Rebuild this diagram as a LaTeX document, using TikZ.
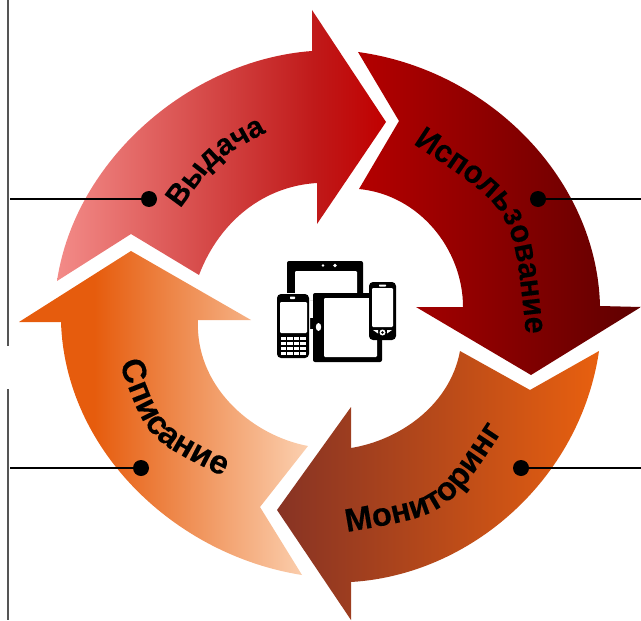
\documentclass[tikz,border=0pt]{standalone}
\usepackage{fontspec}
\usetikzlibrary{decorations.text}
\setmainfont{Liberation Sans}
\newfontfamily\lblfont{Liberation Sans}[UprightFont={* Bold},FakeBold=0.25]
\newfontfamily\lblnarrow{Liberation Sans}[UprightFont={* Bold},FakeBold=0.25,FakeStretch=0.95]
\definecolor{rA}{HTML}{F38B88}\definecolor{rB}{HTML}{C01A1A}\definecolor{rC}{HTML}{C00000}
\definecolor{dA}{HTML}{B40000}\definecolor{dB}{HTML}{5E0000}
\definecolor{mA}{HTML}{873324}\definecolor{mB}{HTML}{E8600F}
\definecolor{oA}{HTML}{E65C0D}\definecolor{oB}{HTML}{FBD0B0}
\definecolor{frame}{HTML}{555555}
\pgfdeclarehorizontalshading{redS}{100bp}{color(0bp)=(rA);color(25bp)=(rA);color(64bp)=(rB);color(75bp)=(rC);color(100bp)=(rC)}
\pgfdeclarehorizontalshading{darkS}{100bp}{color(0bp)=(dA);color(25bp)=(dA);color(75bp)=(dB);color(100bp)=(dB)}
\pgfdeclarehorizontalshading{monS}{100bp}{color(0bp)=(mA);color(25bp)=(mA);color(75bp)=(mB);color(100bp)=(mB)}
\pgfdeclarehorizontalshading{oraS}{100bp}{color(0bp)=(oA);color(25bp)=(oA);color(38bp)=(oA);color(75bp)=(oB);color(100bp)=(oB)}
\tikzset{
 curved label/.style={decorate,decoration={text along path,text align=center,text={#1}}},
 dot/.style={circle,fill=black,inner sep=0pt,minimum size=12pt},
 lead/.style={draw=black,line width=2.2pt},
 frameline/.style={draw=frame,line width=1.5pt},
 blk/.style={fill=black,rounded corners=1.5pt},
 wht/.style={fill=white,rounded corners=.8pt},
}
\begin{document}
\begin{tikzpicture}[x=0.75pt,y=-0.75pt]
\useasboundingbox (0,0) rectangle (641,620);
% frame
\draw[frameline] (7.5,0) -- (7.5,346);
\draw[frameline] (7.5,389) -- (7.5,620);
% arrows
\shade[shading=redS] (57,281) .. controls (75,160) and (190,60) .. (312,51) -- (312,10) -- (386,122) -- (317,224) -- (317,183) .. controls (265,186) and (220,220) .. (199,275) -- (131,234) -- cycle;
\shade[shading=darkS] (358,52) .. controls (490,70) and (597,180) .. (600,306) -- (641,307) -- (531,375) -- (416,307) -- (463,307) .. controls (463,250) and (420,195) .. (359,189) -- (399,121) -- cycle;
\shade[shading=monS] (599,351) .. controls (580,480) and (470,575) .. (351,582) -- (351,620) -- (277,510) -- (351,407) -- (351,448) .. controls (400,440) and (450,405) .. (460,351) -- (530,390) -- cycle;
\shade[shading=oraS] (61,322) .. controls (65,450) and (175,555) .. (302,575) -- (260,507) -- (308,446) .. controls (250,435) and (195,385) .. (198,320) -- (251,320) -- (131,251) -- (19,322) -- cycle;
% leaders
\node[dot] (d1) at (149,199) {};
\node[dot] (d2) at (538,199) {};
\node[dot] (d3) at (141,468) {};
\node[dot] (d4) at (521,468) {};
\coordinate (e1) at (10,199);
\coordinate (e2) at (641,199);
\coordinate (e3) at (10,468);
\coordinate (e4) at (641,468);
\draw[lead] (e1) -- (d1);
\draw[lead] (d2) -- (e2);
\draw[lead] (e3) -- (d3);
\draw[lead] (d4) -- (e4);
% labels on curved baselines
\path[curved label={|\lblfont\fontsize{22.5}{24}\selectfont|Выдача}]
  (169,214) -- (185,202) .. controls (217,158.5) .. (265,133) -- (277,127);
\path[curved label={|\lblnarrow\fontsize{24}{26}\selectfont|Использование}]
  (390,113) -- (418,147) .. controls (512.5,209) .. (525,323) -- (527,372);
\path[curved label={|\lblfont\fontsize{24.5}{26}\selectfont|Мониторинг}]
  (323,537) -- (347,532) .. controls (447,515) .. (503,430) -- (515,410);
\path[curved label={|\lblfont\fontsize{25}{27}\selectfont|Списание}]
  (108,345) -- (120,365) .. controls (147,439) .. (222,476) -- (242,486);
% icon: back tablet
\fill[blk] (287,261) rectangle (363,300);
\fill[wht] (295,271) rectangle (357,300);
\fill[white] (323,265.5) circle (1.3) (335,265.5) circle (1.8);
\fill[black] (308,318) rectangle (314,329);
% front tablet
\fill[blk] (313,293) rectangle (382,362);
\fill[wht] (324,298) rectangle (377,357);
\fill[white] (318.5,327) ellipse (2.7 and 4);
% left phone
\fill[white,rounded corners=2pt] (276,293) rectangle (310,359);
\fill[blk,rounded corners=3pt] (277,294) rectangle (309,358);
\fill[wht] (280,302) rectangle (307,333);
\fill[white,rounded corners=.5pt] (290,296.5) rectangle (295,299);
\foreach \r in {0,1,2,3}{\foreach \c in {0,1,2,3}{
 \fill[white] ({281+6.4*\c},{336.5+5*\r}) rectangle ++(5.4,3.9);
}}
% right phone
\fill[blk,rounded corners=3pt] (369,282) rectangle (396,340);
\fill[wht] (372,288) rectangle (393,327);
\fill[white,rounded corners=.5pt] (379,284.5) rectangle (386,286.5);
\fill[white] (382.5,332.5) circle (3);
\fill[black] (382.5,332.5) circle (1.4);
\fill[white] (373,330) -- (378,330) -- (378,333.5) -- cycle;
\fill[white] (392,330) -- (387,330) -- (387,333.5) -- cycle;
\end{tikzpicture}
\end{document}
